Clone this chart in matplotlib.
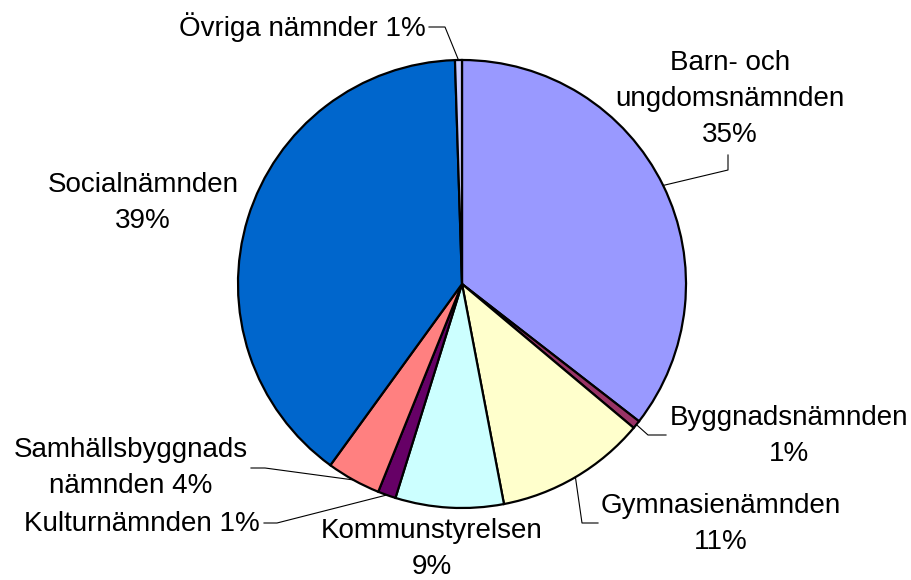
import matplotlib.pyplot as plt
import numpy as np

plt.rcParams['font.family'] = ['Liberation Sans', 'DejaVu Sans']

H = 580

NAMES = ["Barn- och ungdomsnämnden", "Byggnadsnämnden", "Gymnasienämnden",
         "Kommunstyrelsen", "Kulturnämnden", "Samhällsbyggnadsnämnden",
         "Socialnämnden", "Övriga nämnder"]
SHARES = [35.5, 0.6, 10.9, 7.8, 1.3, 3.9, 39.5, 0.5]
LABELS = [
    "Barn- och\nungdomsnämnden\n35%",
    "Byggnadsnämnden\n1%",
    "Gymnasienämnden\n11%",
    "Kommunstyrelsen\n9%",
    "Kulturnämnden 1%",
    "Samhällsbyggnads\nnämnden 4%",
    "Socialnämnden\n39%",
    "Övriga nämnder 1%",
]
COLORS = ["#9999FF", "#993366", "#FFFFCC", "#CCFFFF",
          "#660066", "#FF8080", "#0066CC", "#CCCCFF"]

# label centres and leader elbows, in image pixels (y down)
TEXT_POS = [(730, 99), (789, 436), (721, 524), (432, 549),
            (142, 524), (131, 468), (143, 203), (302, 27)]
ELBOWS = [
    [(728, 170), (728, 155)],
    [(648, 435), (666, 435)],
    [(582, 523), (598, 523)],
    None,
    [(277, 523), (264, 523)],
    [(265, 468), (251, 468)],
    None,
    [(445, 27), (429, 27)],
]

CENTER = (462, H - 284)
RADIUS = 224

fig = plt.figure(figsize=(9.12, 5.8), dpi=100)
ax = fig.add_axes([0, 0, 1, 1])

wedges, _ = ax.pie(SHARES, colors=COLORS, startangle=90, counterclock=False,
                   center=CENTER, radius=RADIUS,
                   wedgeprops=dict(edgecolor="black", linewidth=1.6))

for i, w in enumerate(wedges):
    x, y = TEXT_POS[i]
    ax.text(x, H - y, LABELS[i], ha="center", va="center", fontsize=20,
            linespacing=1.5, color="black")
    if ELBOWS[i] is None:
        continue
    mid = np.deg2rad((w.theta1 + w.theta2) / 2)
    ax_pt = (CENTER[0] + RADIUS * np.cos(mid), CENTER[1] + RADIUS * np.sin(mid))
    xs = [ax_pt[0]] + [p[0] for p in ELBOWS[i]]
    ys = [ax_pt[1]] + [H - p[1] for p in ELBOWS[i]]
    ax.plot(xs, ys, color="black", linewidth=0.8)

ax.set_xlim(0, 912)
ax.set_ylim(0, H)
ax.set_aspect("auto")
ax.axis("off")

fig.savefig("out.png", dpi=100)
